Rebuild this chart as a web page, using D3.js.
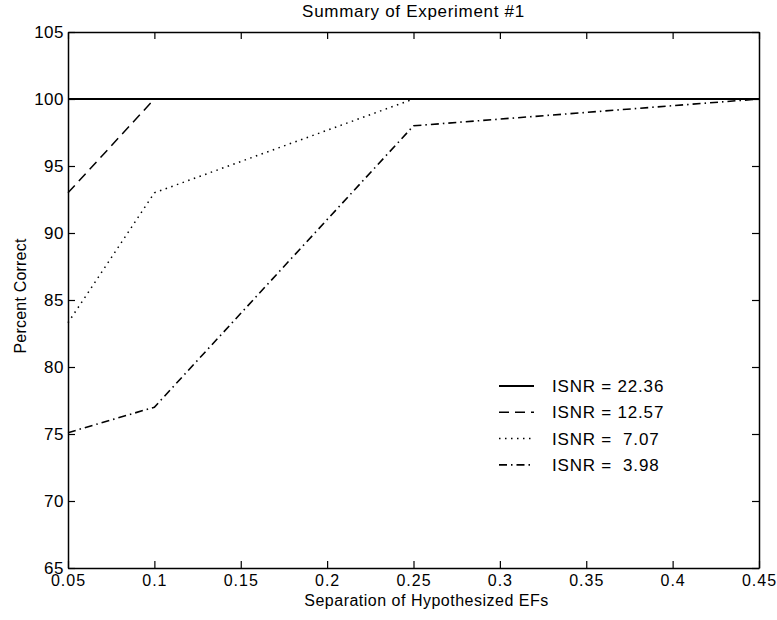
<!DOCTYPE html>
<html lang="en">
<head>
    <meta charset="UTF-8">
    <title>Summary of Experiment #1</title>
    <script src="https://d3js.org/d3.v7.min.js"></script>
    <style>
        body { margin: 0; background: #fff; }
        svg { width: 777px; height: 620px; font-family: "Liberation Sans", Arial, sans-serif; }
    </style>
</head>
<body>
    <svg></svg>
    <script>
        // data
        const separation = [0.05, 0.1, 0.25, 0.45];
        const isnr2236 = [100, 100, 100, 100];
        const isnr1257 = [93, 100, 100, 100];
        const isnr707 = [83.3, 93, 100, 100];
        const isnr398 = [75.1, 77, 98, 100];
        const seriesNames = ["ISNR = 22.36", "ISNR = 12.57", "ISNR =  7.07", "ISNR =  3.98"];
        const xTicks = [0.05, 0.1, 0.15, 0.2, 0.25, 0.3, 0.35, 0.4, 0.45];
        const yTicks = [65, 70, 75, 80, 85, 90, 95, 100, 105];

        const dashes = [null, "10,6", "1.5,4.5", "8,4,1.5,4"];
        const widths = [2, 1.5, 1.5, 1.6];

        const svg = d3.select("svg");
        const mLeft = 68, mRight = 759, mTop = 32, mBottom = 568;

        const x = d3.scaleLinear().domain([0.05, 0.45]).range([mLeft, mRight]);
        const y = d3.scaleLinear().domain([65, 105]).range([mBottom, mTop]);

        const series = [isnr2236, isnr1257, isnr707, isnr398];

        // lines
        const line = d3.line()
            .x((d, i) => x(separation[i]))
            .y(d => y(d));

        svg.append("g").selectAll("path")
            .data(series)
            .join("path")
            .attr("d", d => line(d))
            .attr("fill", "none")
            .attr("stroke", "#000")
            .attr("stroke-width", (d, i) => widths[i])
            .attr("stroke-dasharray", (d, i) => dashes[i]);

        // axes, ticks pointing inward like matlab
        const fmt = d => String(d);
        svg.append("g")
            .attr("transform", `translate(0,${mBottom})`)
            .call(d3.axisBottom(x).tickValues(xTicks).tickFormat(fmt).tickSizeInner(-7).tickSizeOuter(0).tickPadding(7))
            .call(g => g.selectAll("text").attr("font-size", 16).attr("letter-spacing", 1).attr("fill", "#000"));
        svg.append("g")
            .attr("transform", `translate(0,${mTop})`)
            .call(d3.axisTop(x).tickValues(xTicks).tickFormat("").tickSizeInner(-7).tickSizeOuter(0));
        svg.append("g")
            .attr("transform", `translate(${mLeft},0)`)
            .call(d3.axisLeft(y).tickValues(yTicks).tickFormat(fmt).tickSizeInner(-7).tickSizeOuter(0).tickPadding(4))
            .call(g => g.selectAll("text").attr("font-size", 17).attr("letter-spacing", 0.5).attr("fill", "#000"));
        svg.append("g")
            .attr("transform", `translate(${mRight},0)`)
            .call(d3.axisRight(y).tickValues(yTicks).tickFormat("").tickSizeInner(-7).tickSizeOuter(0));

        svg.selectAll(".domain").attr("stroke-width", 1.5);
        svg.selectAll(".tick line").attr("stroke-width", 1.2);

        // titles
        svg.append("text")
            .attr("x", (mLeft + mRight) / 2).attr("y", 17)
            .attr("text-anchor", "middle").attr("font-size", 17).attr("letter-spacing", 0.7)
            .text("Summary of Experiment #1");
        svg.append("text")
            .attr("x", (mLeft + mRight) / 2 + 13).attr("y", 606)
            .attr("text-anchor", "middle").attr("font-size", 16).attr("letter-spacing", 0.5)
            .text("Separation of Hypothesized EFs");
        svg.append("text")
            .attr("transform", `translate(26,296) rotate(-90)`)
            .attr("text-anchor", "middle").attr("font-size", 16).attr("letter-spacing", 0.2)
            .text("Percent Correct");

        // legend
        const legend = svg.append("g").attr("transform", "translate(499,386)");
        const rows = legend.selectAll("g")
            .data(seriesNames)
            .join("g")
            .attr("transform", (d, i) => `translate(0,${i * 26.3})`);
        rows.append("line")
            .attr("x1", 0).attr("x2", 35).attr("y1", 0).attr("y2", 0)
            .attr("stroke", "#000")
            .attr("stroke-width", (d, i) => widths[i])
            .attr("stroke-dasharray", (d, i) => dashes[i]);
        rows.append("text")
            .attr("x", 53).attr("y", 6)
            .attr("font-size", 17).attr("letter-spacing", 0.8)
            .style("white-space", "pre")
            .text(d => d);
    </script>
</body>
</html>
